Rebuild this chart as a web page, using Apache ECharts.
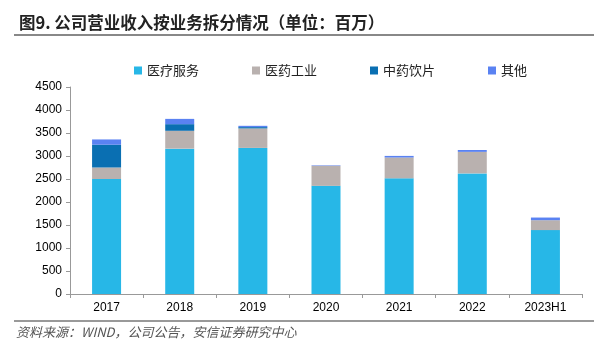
<!DOCTYPE html>
<html>
<head>
<meta charset="utf-8">
<script src="https://cdn.jsdelivr.net/npm/echarts@6/dist/echarts.min.js"></script>
<style>html,body{margin:0;padding:0;background:#fff}#c{width:601px;height:360px}</style>
</head>
<body>
<div id="c"></div>
<script>
const categories = ['2017','2018','2019','2020','2021','2022','2023H1'];
const seriesNames = ['医疗服务','医药工业','中药饮片','其他'];
const medicalService = [2500, 3160, 3176, 2351, 2515, 2622, 1389];
const pharmaIndustry = [250, 388, 424, 437, 452, 468, 215];
const tcmPieces = [495, 144, 28, 0, 0, 0, 0];
const others = [115, 115, 28, 10, 35, 40, 58];
const yTicks = [0, 4500, 500];

const colors = ['#27B7E7', '#B9B1AF', '#0A6FB2', '#5A82F2'];
const dataSets = [medicalService, pharmaIndustry, tcmPieces, others];

const chart = echarts.init(document.getElementById('c'), null, {renderer: 'canvas'});
chart.setOption({
  animation: false,
  color: colors,
  title: {
    text: '图9. 公司营业收入按业务拆分情况（单位：百万）',
    left: 14, top: 9,
    textStyle: {fontFamily: 'Noto Sans CJK SC', fontSize: 16.5, fontWeight: 'bold', color: '#222'}
  },
  legend: {
    data: seriesNames,
    left: 129, top: 59,
    itemWidth: 8, itemHeight: 8, itemGap: 53,
    icon: 'rect',
    textStyle: {fontFamily: 'Noto Sans CJK SC', fontSize: 13, color: '#222'}
  },
  grid: {left: 70, right: 19, top: 87, bottom: 66},
  xAxis: {
    type: 'category',
    data: categories,
    axisLine: {lineStyle: {color: '#999'}},
    axisTick: {show: true, length: 4, lineStyle: {color: '#999'}},
    axisLabel: {fontFamily: 'Liberation Sans', fontSize: 12, color: '#000', margin: 8}
  },
  yAxis: {
    type: 'value',
    min: yTicks[0], max: yTicks[1], interval: yTicks[2],
    splitLine: {show: false},
    axisLine: {show: true, lineStyle: {color: '#999'}},
    axisTick: {show: true, length: 4, lineStyle: {color: '#999'}},
    axisLabel: {fontFamily: 'Liberation Sans', fontSize: 12, color: '#000', margin: 8, formatter: v => String(v)}
  },
  series: seriesNames.map((n, i) => ({
    name: n, type: 'bar', stack: 'total', barWidth: 29,
    data: dataSets[i],
    itemStyle: {color: colors[i]}
  })),
  graphic: [
    {type: 'line', shape: {x1: 14, y1: 35, x2: 594, y2: 35}, style: {stroke: '#888', lineWidth: 2}},
    {type: 'line', shape: {x1: 14, y1: 321, x2: 594, y2: 321}, style: {stroke: '#999', lineWidth: 2}},
    {type: 'text', left: 16, top: 326, style: {text: '资料来源：WIND，公司公告，安信证券研究中心', fontFamily: 'Noto Sans CJK SC', fontSize: 13, fontStyle: 'italic', fill: '#555'}}
  ]
});
</script>
</body>
</html>
